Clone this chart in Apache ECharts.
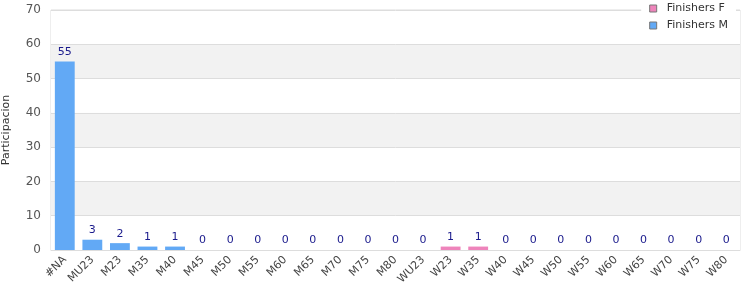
<!DOCTYPE html>
<html><head><meta charset="utf-8">
<script src="https://cdn.jsdelivr.net/npm/echarts@6/dist/echarts.min.js"></script>
<style>html,body{margin:0;padding:0;background:#fff}#c{width:750px;height:300px}</style>
</head><body><div id="c"></div>
<script>
const categories = ['#NA','MU23','M23','M35','M40','M45','M50','M55','M60','M65','M70','M75','M80','WU23','W23','W35','W40','W45','W50','W55','W60','W65','W70','W75','W80'];
const finishersM = [55,3,2,1,1,0,0,0,0,0,0,0,0,null,null,null,null,null,null,null,null,null,null,null,null];
const finishersF = [null,null,null,null,null,null,null,null,null,null,null,null,null,0,1,1,0,0,0,0,0,0,0,0,0];
const yTicks = {min:0,max:70,interval:10};

const chart = echarts.init(document.getElementById('c'), null, {renderer:'canvas'});
const font = 'DejaVu Sans, Verdana, sans-serif';
const lbl = {show:true, position:'top', color:'#1a1a8c', fontFamily:font, fontSize:11, distance:4,
  formatter: p => p.value};
chart.setOption({
  animation:false,
  grid:{left:51, right:10, top:10, bottom:50, show:true, borderColor:'#dddddd', borderWidth:1,
    containLabel:false, outerBoundsMode:'none'},
  legend:{orient:'vertical', right:14, top:2, itemWidth:7, itemHeight:7, itemGap:6, icon:'rect',
    backgroundColor:'#fff', padding:[1,8,3,8],
    textStyle:{fontFamily:font, fontSize:11, color:'#333', padding:[0,0,0,5]},
    data:[{name:'Finishers F', itemStyle:{borderColor:'#777',borderWidth:1}},{name:'Finishers M', itemStyle:{borderColor:'#777',borderWidth:1}}]},
  xAxis:{type:'category', data:categories,
    axisLine:{lineStyle:{color:'#dddddd'}}, axisTick:{show:false},
    axisLabel:{interval:0, rotate:45, color:'#444', fontFamily:font, fontSize:11, margin:8}},
  yAxis:{type:'value', min:yTicks.min, max:yTicks.max, interval:yTicks.interval,
    name:'Participacion', nameLocation:'middle', nameGap:39,
    nameTextStyle:{fontFamily:font, fontSize:11, color:'#333'},
    axisLine:{show:false}, axisTick:{show:false},
    axisLabel:{color:'#555', fontFamily:font, fontSize:12, margin:10},
    splitLine:{lineStyle:{color:'#dddddd'}},
    splitArea:{show:true, areaStyle:{color:['#ffffff','#f2f2f2']}}},
  series:[
    {name:'Finishers F', type:'bar', stack:'a', data:finishersF, barWidth:'72%',
      itemStyle:{color:'#ee84bb'}, label:lbl},
    {name:'Finishers M', type:'bar', stack:'a', data:finishersM, barWidth:'72%',
      itemStyle:{color:'#62a9f5'}, label:lbl}
  ]
});
</script></body></html>
